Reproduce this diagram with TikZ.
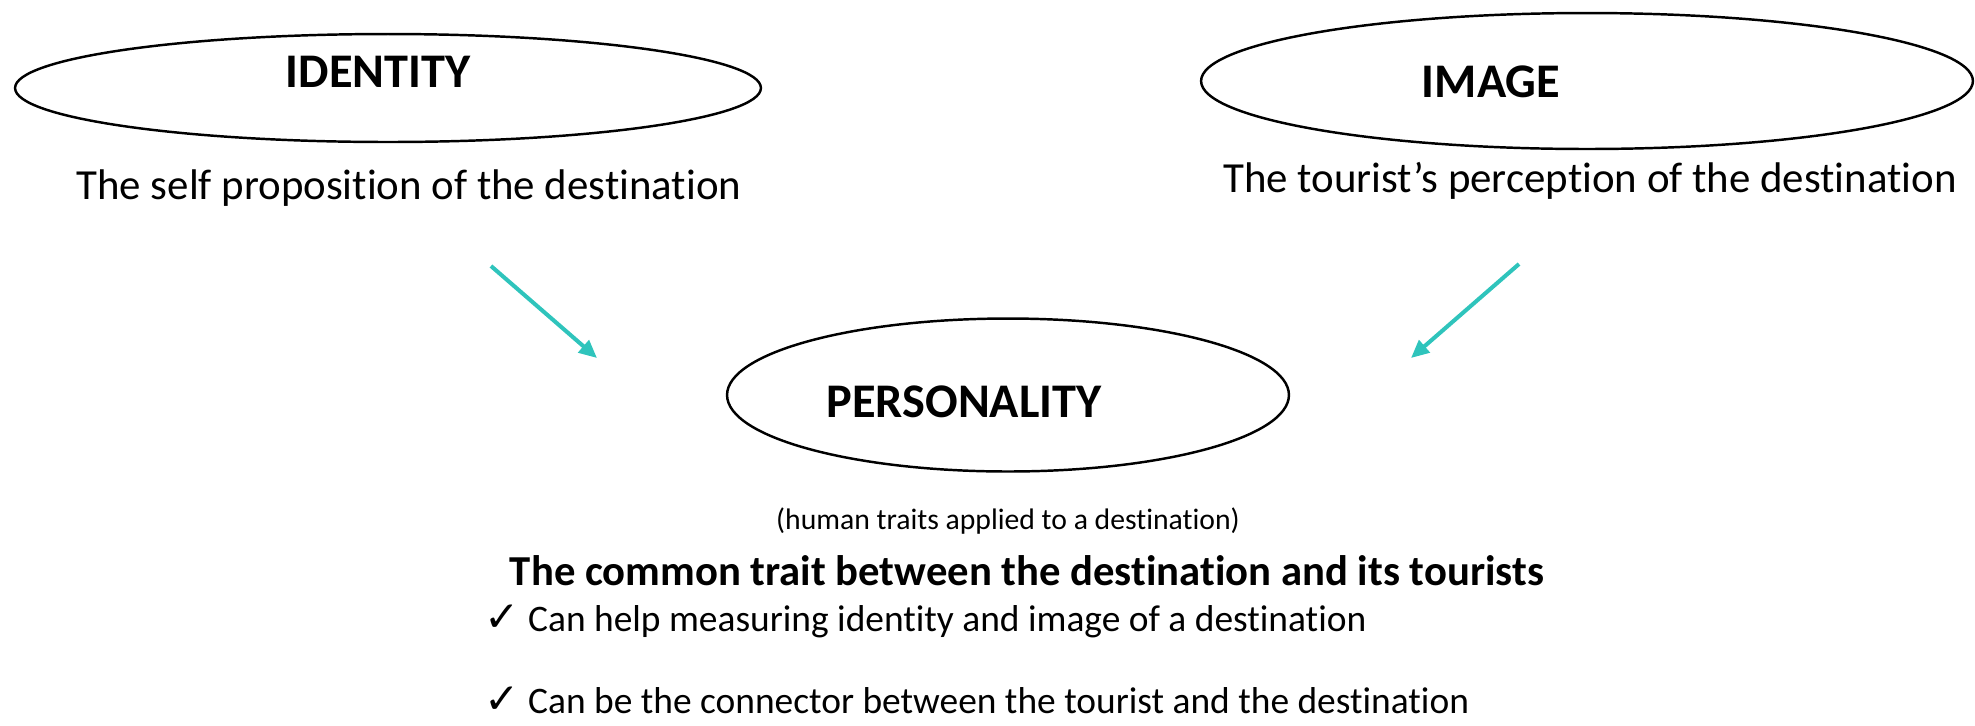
\documentclass[tikz,border=0pt]{standalone}
\usepackage{fontspec}
\setmainfont{Carlito}[Ligatures=NoCommon]
\newfontfamily\symfont{DejaVu Sans}
\usetikzlibrary{shapes.geometric,arrows.meta}

\definecolor{teal arrow}{RGB}{47,196,188}

\newcommand{\tick}{{\symfont\fontsize{24}{25}\selectfont ✓}}

\tikzset{oval/.style={draw,ellipse,line width=1.4pt,inner sep=0cm},
title/.style={font=\fontsize{27.5}{32}\selectfont\bfseries,inner sep=0cm},
caption/.style={font=\fontsize{24.4}{29}\selectfont,inner sep=0cm},
note/.style={font=\fontsize{16.9}{20}\selectfont,inner sep=0cm},
common/.style={font=\fontsize{24.3}{29}\selectfont\bfseries,inner sep=0cm},
check/.style={font=\fontsize{21.3}{25}\selectfont,anchor=base west,text depth=0pt,inner sep=0cm},
link/.style={teal arrow,line width=2.3pt,-{Triangle[length=0.36cm,width=0.32cm]}}}

\begin{document}
\begin{tikzpicture}[x=0.02cm,y=-0.02cm]
\useasboundingbox (0,0) rectangle (1975,725);

%% ovals
\node [oval,minimum width=14.92cm,minimum height=2.16cm] (identity) at (388,88) {};
\node [oval,minimum width=15.44cm,minimum height=2.72cm] (image) at (1587,81) {};
\node [oval,minimum width=11.24cm,minimum height=3.06cm] (personality) at (1008,395) {};

%% oval titles
\node [title] (identity title) at (378,72) {IDENTITY};
\node [title] (image title) at (1491,82) {IMAGE};
\node [title] (personality title) at (964,402) {PERSONALITY};

%% captions
\node [caption] (identity text) at (409,188) {The self proposition of the destination};
\node [caption] (image text) at (1590,181) {The tourist’s perception of the destination};
\node [note] (traits) at (1008,521) {(human traits applied to a destination)};
\node [common] (common) at (1027,571) {The common trait between the destination and its tourists};
\node [check] (check1) at (484,631) {\tick{} Can help measuring identity and image of a destination};
\node [check] (check2) at (484,713) {\tick{} Can be the connector between the tourist and the destination};

%% arrows
\coordinate (a1) at (491,266);
\coordinate (a1p) at (597,358);
\coordinate (a2) at (1519,264);
\coordinate (a2p) at (1411,358);
\draw [link] (a1) -- (a1p);
\draw [link] (a2) -- (a2p);

\end{tikzpicture}
\end{document}
